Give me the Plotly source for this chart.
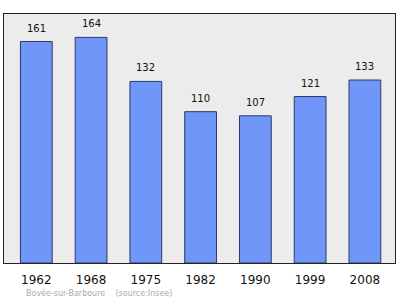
import plotly.graph_objects as go

years = ["1962", "1968", "1975", "1982", "1990", "1999", "2008"]
population = [161, 164, 132, 110, 107, 121, 133]

fig = go.Figure()
fig.add_trace(go.Bar(
    x=list(range(len(years))), y=population,
    width=0.58,
    marker=dict(color="#6f96f8", line=dict(color="#2b3a66", width=1)),
))
annotations = [dict(x=i, y=v, text=str(v), xref="x", yref="y", showarrow=False,
                    yanchor="bottom", yshift=6,
                    font=dict(family="DejaVu Sans", size=10, color="#111111"))
               for i, v in enumerate(population)]
plot_w = 400 - 4 - 5
plot_h = 299 - 14 - 36
annotations.append(dict(text="Bovée-sur-Barboure &nbsp;&nbsp; (source:Insee)",
                        x=(24 - 4) / plot_w, y=(299 - 36 - 293) / plot_h,
                        xref="paper", yref="paper", showarrow=False,
                        font=dict(family="DejaVu Sans", size=8, color="#aaaaaa"),
                        xanchor="left", yanchor="middle"))
fig.update_layout(
    width=400, height=299,
    margin=dict(l=4, r=5, t=14, b=36),
    plot_bgcolor="#ececec", paper_bgcolor="#ffffff",
    showlegend=False,
    xaxis=dict(range=[-0.59, 6.55], tickmode="array", tickvals=list(range(len(years))),
               ticktext=years, showgrid=False, zeroline=False, ticklabelstandoff=6,
               tickfont=dict(family="DejaVu Sans", size=12, color="#111111"),
               showline=True, linecolor="#222222", linewidth=1, mirror=True, ticks=""),
    yaxis=dict(range=[0, 181], showticklabels=False, showgrid=False, zeroline=False,
               showline=True, linecolor="#222222", linewidth=1, mirror=True, ticks=""),
    annotations=annotations,
)
fig.write_html("out.html")
